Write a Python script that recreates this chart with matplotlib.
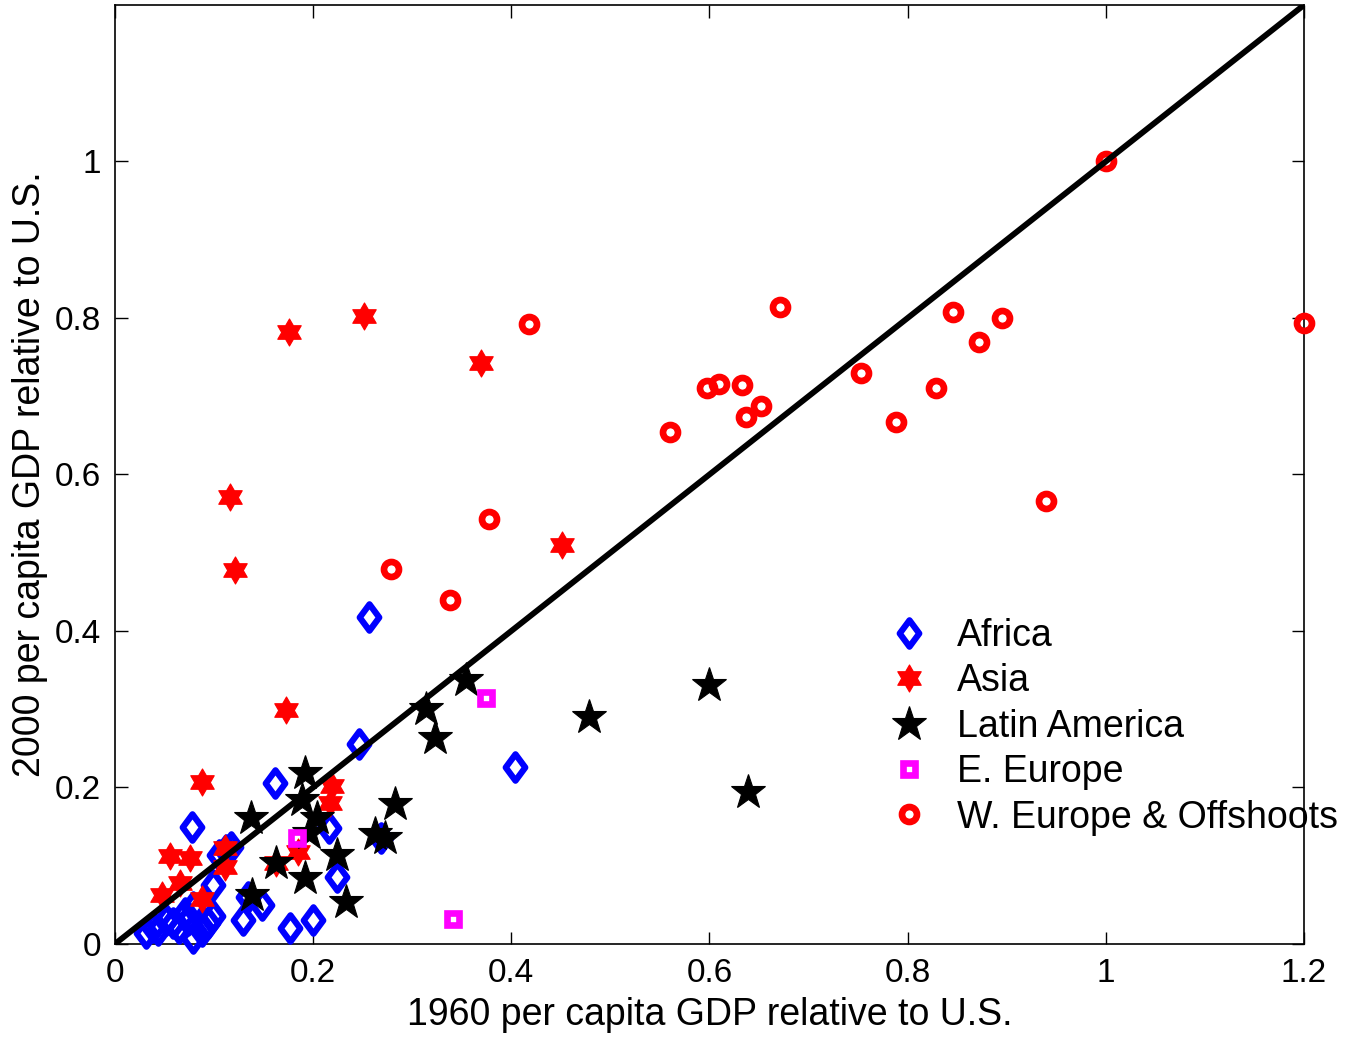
import matplotlib
matplotlib.use("Agg")
import matplotlib.pyplot as plt
from matplotlib.path import Path
import numpy as np

plt.rcParams['font.family'] = ['Liberation Sans', 'DejaVu Sans']

# ---- data (1960 relative GDP, 2000 relative GDP) ----
africa_x = [0.256, 0.246, 0.404, 0.162, 0.078, 0.216, 0.268, 0.117, 0.105, 0.224, 0.099,
            0.134, 0.148, 0.129, 0.177, 0.200, 0.031, 0.043, 0.059, 0.071, 0.079, 0.094,
            0.079, 0.099, 0.065, 0.052, 0.088, 0.038, 0.074, 0.112]
africa_y = [0.418, 0.255, 0.226, 0.206, 0.150, 0.148, 0.136, 0.124, 0.114, 0.086, 0.075,
            0.060, 0.050, 0.031, 0.020, 0.031, 0.014, 0.018, 0.027, 0.039, 0.047, 0.027,
            0.008, 0.036, 0.020, 0.030, 0.016, 0.022, 0.030, 0.120]

asia_x = [0.251, 0.176, 0.369, 0.116, 0.121, 0.451, 0.173, 0.088, 0.0555, 0.0757,
          0.111, 0.111, 0.0656, 0.047, 0.088, 0.163, 0.185, 0.219, 0.217]
asia_y = [0.802, 0.782, 0.742, 0.571, 0.478, 0.510, 0.299, 0.207, 0.113, 0.110,
          0.122, 0.098, 0.078, 0.062, 0.058, 0.104, 0.117, 0.202, 0.180]

latam_x = [0.600, 0.478, 0.639, 0.354, 0.314, 0.323, 0.192, 0.189, 0.137, 0.204,
           0.196, 0.224, 0.192, 0.233, 0.283, 0.262, 0.273, 0.163, 0.138]
latam_y = [0.331, 0.290, 0.194, 0.337, 0.300, 0.263, 0.219, 0.184, 0.161, 0.161,
           0.142, 0.114, 0.084, 0.054, 0.179, 0.141, 0.136, 0.103, 0.063]

eeur_x = [0.374, 0.341, 0.184]
eeur_y = [0.314, 0.032, 0.136]

weur_x = [1.000, 1.200, 0.671, 0.418, 0.846, 0.895, 0.872, 0.753, 0.829, 0.597,
          0.610, 0.633, 0.652, 0.637, 0.560, 0.788, 0.940, 0.377, 0.279, 0.338]
weur_y = [1.000, 0.793, 0.814, 0.792, 0.808, 0.800, 0.769, 0.730, 0.710, 0.711,
          0.715, 0.714, 0.687, 0.673, 0.654, 0.667, 0.566, 0.543, 0.479, 0.439]

group_labels = ['Africa', 'Asia', 'Latin America', 'E. Europe', 'W. Europe & Offshoots']
xticks = [0, 0.2, 0.4, 0.6, 0.8, 1, 1.2]
xticklabels = ['0', '0.2', '0.4', '0.6', '0.8', '1', '1.2']
yticks = [0, 0.2, 0.4, 0.6, 0.8, 1]
yticklabels = ['0', '0.2', '0.4', '0.6', '0.8', '1']

fig = plt.figure(figsize=(13.54, 10.38), dpi=100)
ax = fig.add_axes([0.0849, 0.0906, 0.8782, 0.9046])

ax.plot([0, 1.2], [0, 1.2], color='black', lw=4.2, zorder=6)

diamond = Path([(0, 1), (0.74, 0), (0, -1), (-0.74, 0), (0, 1)],
               [Path.MOVETO, Path.LINETO, Path.LINETO, Path.LINETO, Path.CLOSEPOLY])
hexagram = Path.unit_regular_star(6, 0.577)

h1, = ax.plot(africa_x, africa_y, marker=diamond, ls='none', mfc='none', mec='#0000ff',
              mew=4.5, ms=19, clip_on=False, zorder=3)
h2, = ax.plot(asia_x, asia_y, marker=hexagram, ls='none', mfc='#ff0000', mec='#ff0000',
              mew=0.8, ms=19.5, clip_on=False, zorder=3)
h3, = ax.plot(latam_x, latam_y, '*', ls='none', mfc='black', mec='black', mew=0.8,
              ms=26, clip_on=False, zorder=3)
h4, = ax.plot(eeur_x, eeur_y, 's', ls='none', mfc='none', mec='#ff00ff', mew=4.8,
              ms=9, clip_on=False, zorder=3)
h5, = ax.plot(weur_x, weur_y, 'o', ls='none', mfc='none', mec='#ff0000', mew=4.8,
              ms=10.8, clip_on=False, zorder=3)

ax.set_xlim(0, 1.2)
ax.set_ylim(0, 1.2)
ax.set_xticks(xticks)
ax.set_xticklabels(xticklabels)
ax.set_yticks(yticks)
ax.set_yticklabels(yticklabels)
ax.tick_params(direction='in', length=9, width=1, labelsize=24, top=True, right=True, pad=10)
for s in ax.spines.values():
    s.set_linewidth(1.2)

ax.set_xlabel('1960 per capita GDP relative to U.S.', fontsize=27, labelpad=6)
ax.set_ylabel('2000 per capita GDP relative to U.S.', fontsize=27, labelpad=5)

leg = ax.legend([h1, h2, h3, h4, h5], group_labels, loc='upper left',
                bbox_to_anchor=(0.6365, 0.363), frameon=False, fontsize=27,
                handlelength=1.2, handletextpad=0.68, labelspacing=0.25, borderaxespad=0)
leg.set_zorder(7)

fig.savefig('out.png', dpi=100)
